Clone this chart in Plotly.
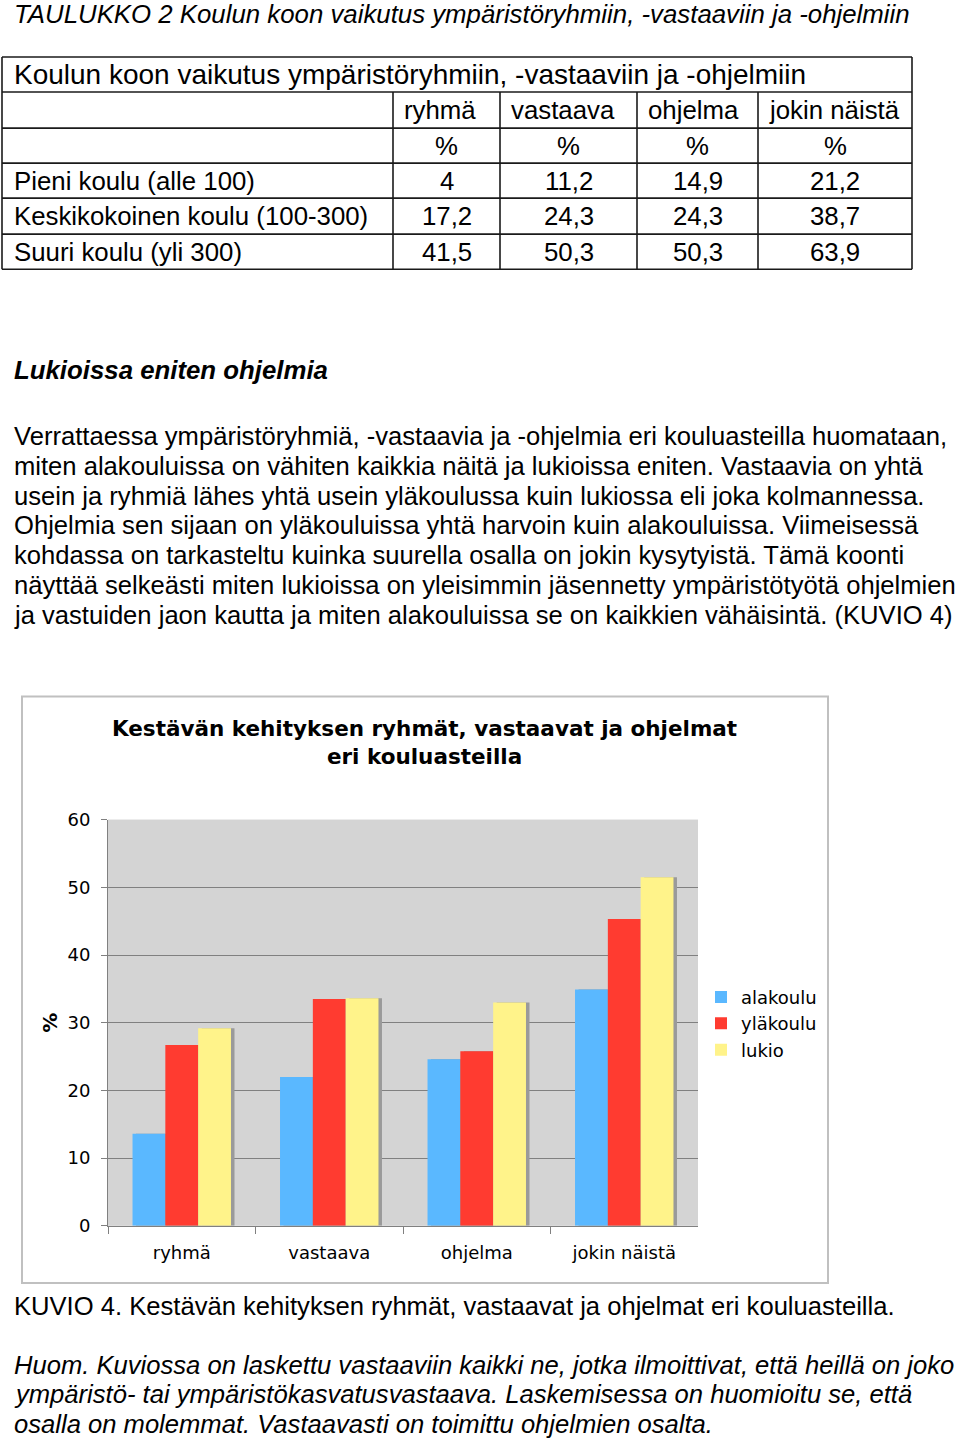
import plotly.graph_objects as go

W, H = 960, 1438

# ---------------- data ----------------
categories = ["ryhmä", "vastaava", "ohjelma", "jokin näistä"]
alakoulu = [13.6, 22.0, 24.6, 34.9]
ylakoulu = [26.7, 33.5, 25.8, 45.3]
lukio = [29.2, 33.6, 33.0, 51.5]
series_names = ["alakoulu", "yläkoulu", "lukio"]
y_ticks = [0, 10, 20, 30, 40, 50, 60]

table_title = "Koulun koon vaikutus ympäristöryhmiin, -vastaaviin ja -ohjelmiin"
table_columns = ["ryhmä", "vastaava", "ohjelma", "jokin näistä"]
table_units = ["%", "%", "%", "%"]
table_row_labels = ["Pieni koulu (alle 100)", "Keskikokoinen koulu (100-300)", "Suuri koulu (yli 300)"]
pieni = [4, 11.2, 14.9, 21.2]
keskikokoinen = [17.2, 24.3, 24.3, 38.7]
suuri = [41.5, 50.3, 50.3, 63.9]

page_title = "TAULUKKO 2 Koulun koon vaikutus ympäristöryhmiin, -vastaaviin ja -ohjelmiin"
section_heading = "Lukioissa eniten ohjelmia"
paragraph_lines = [
    "Verrattaessa ympäristöryhmiä, -vastaavia ja -ohjelmia eri kouluasteilla huomataan,",
    "miten alakouluissa on vähiten kaikkia näitä ja lukioissa eniten. Vastaavia on yhtä",
    "usein ja ryhmiä lähes yhtä usein yläkoulussa kuin lukiossa eli joka kolmannessa.",
    "Ohjelmia sen sijaan on yläkouluissa yhtä harvoin kuin alakouluissa. Viimeisessä",
    "kohdassa on tarkasteltu kuinka suurella osalla on jokin kysytyistä. Tämä koonti",
    "näyttää selkeästi miten lukioissa on yleisimmin jäsennetty ympäristötyötä ohjelmien",
    "ja vastuiden jaon kautta ja miten alakouluissa se on kaikkien vähäisintä. (KUVIO 4)",
]
chart_title = "Kestävän kehityksen ryhmät, vastaavat ja ohjelmat<br>eri kouluasteilla"
caption = "KUVIO 4. Kestävän kehityksen ryhmät, vastaavat ja ohjelmat eri kouluasteilla."
note_lines = [
    "Huom. Kuviossa on laskettu vastaaviin kaikki ne, jotka ilmoittivat, että heillä on joko",
    "ympäristö- tai ympäristökasvatusvastaava. Laskemisessa on huomioitu se, että",
    "osalla on molemmat. Vastaavasti on toimittu ohjelmien osalta.",
]

# ---------------- helpers ----------------
# the drawable paper area renders from about y=11 to y=1427 in the photographed page
PAPER_TOP, PAPER_H = 11.0, 1416.0

def X(px):
    return px / W

def Y(py):
    return 1 - (py - PAPER_TOP) / PAPER_H

ARIAL = "Liberation Sans, Arial, sans-serif"
VERD = "DejaVu Sans, Verdana, sans-serif"
TXT = 25.8
BODY = 25.6

annotations = []
shapes = []

def text(x, y, s, size=TXT, family=ARIAL, anchor="left", color="#000"):
    annotations.append(dict(x=X(x), y=Y(y), xref="paper", yref="paper", text=s,
                            showarrow=False, xanchor=anchor, yanchor="middle",
                            font=dict(family=family, size=size, color=color)))

def line(x0, y0, x1, y1, color="#1a1a1a", width=1.6):
    shapes.append(dict(type="line", xref="paper", yref="paper",
                       x0=X(x0), y0=Y(y0), x1=X(x1), y1=Y(y1),
                       line=dict(color=color, width=width)))

def fmt(v):
    return str(v).replace(".", ",")

# ---------------- page title ----------------
text(12, 14, "<i>" + page_title + "</i>")

# ---------------- table ----------------
tx0, tx1 = 2, 912
col_edges = [393, 500, 637, 758, 912]
row_edges = [57, 92, 128, 163, 198, 234, 269]
for ry in row_edges:
    line(tx0, ry, tx1, ry)
line(tx0, row_edges[0], tx0, row_edges[-1])
line(tx1, row_edges[0], tx1, row_edges[-1])
for cx in col_edges[:-1]:
    line(cx, row_edges[1], cx, row_edges[-1])

def rc(i):
    return (row_edges[i] + row_edges[i + 1]) / 2

text(12, rc(0), table_title, size=28)
for j, c in enumerate(table_columns):
    text(col_edges[j] + 9, rc(1), c)
for j, u in enumerate(table_units):
    text((col_edges[j] + col_edges[j + 1]) / 2, rc(2), u, anchor="center")
for i, (lab, vals) in enumerate(zip(table_row_labels, [pieni, keskikokoinen, suuri])):
    text(12, rc(3 + i), lab)
    for j, v in enumerate(vals):
        text((col_edges[j] + col_edges[j + 1]) / 2, rc(3 + i), fmt(v), anchor="center")

# ---------------- text ----------------
text(12, 370, "<b><i>" + section_heading + "</i></b>")
for k, s in enumerate(paragraph_lines):
    text(12, 436 + k * 29.7, s, size=BODY)

# ---------------- chart frame & titles ----------------
shapes.append(dict(type="rect", xref="paper", yref="paper", x0=X(22), x1=X(828),
                   y0=Y(1282), y1=Y(696), line=dict(color="#c0c0c0", width=2),
                   fillcolor="rgba(0,0,0,0)", layer="below"))
text(424, 742, "<b>" + chart_title + "</b>", size=21.5, family=VERD, anchor="center")
annotations.append(dict(x=X(50), y=Y(1022), xref="paper", yref="paper", text="<b>%</b>",
                        showarrow=False, textangle=-90, xanchor="center", yanchor="middle",
                        font=dict(family=VERD, size=20, color="#000")))

text(12, 1305, caption, size=25.6)
for k, s in enumerate(note_lines):
    text(12, 1364 + k * 29.3, "<i>" + s + "</i>", size=BODY)

# ---------------- bars ----------------
colors = ["#5AB8FF", "#FF3B30", "#FFF38A"]
bw = 0.2225
offsets = [-1.5 * bw, -0.5 * bw, 0.5 * bw]
shadow_dx = 3.5 / 147.5

fig = go.Figure()
for vals, off in zip([alakoulu, ylakoulu, lukio], offsets):
    fig.add_trace(go.Bar(x=categories, y=vals, width=bw, offset=off + shadow_dx,
                         marker=dict(color="#9a9a9a", line=dict(width=0)),
                         showlegend=False, hoverinfo="skip"))
for vals, off, name, col in zip([alakoulu, ylakoulu, lukio], offsets, series_names, colors):
    fig.add_trace(go.Bar(x=categories, y=vals, width=bw, offset=off, name=name,
                         marker=dict(color=col, line=dict(width=0))))

fig.update_layout(
    width=W, height=H, autosize=False,
    margin=dict(l=0, r=0, t=0, b=0),
    paper_bgcolor="white", plot_bgcolor="#D4D4D4",
    barmode="overlay",
    showlegend=True,
    legend=dict(x=X(701), y=Y(978), xanchor="left", yanchor="top",
                font=dict(family=VERD, size=18, color="#000"),
                bgcolor="rgba(0,0,0,0)", itemwidth=30, traceorder="normal"),
    xaxis=dict(domain=[X(108), X(698)], range=[-0.5, 3.5], type="category",
               showline=True, linecolor="#808080", linewidth=1,
               ticks="outside", tickson="boundaries", ticklen=7, tickcolor="#808080",
               showgrid=False, tickfont=dict(family=VERD, size=18, color="#000"),
               ticklabelstandoff=11),
    yaxis=dict(domain=[Y(1225), Y(819)], range=[0, 60], tickvals=y_ticks,
               showline=True, linecolor="#808080", linewidth=1,
               ticks="outside", ticklen=6, tickcolor="#808080",
               showgrid=True, gridcolor="#808080", gridwidth=1, zeroline=False,
               tickfont=dict(family=VERD, size=18, color="#000"),
               ticklabelstandoff=7),
    annotations=annotations,
    shapes=shapes,
)

fig.write_html("out.html")
